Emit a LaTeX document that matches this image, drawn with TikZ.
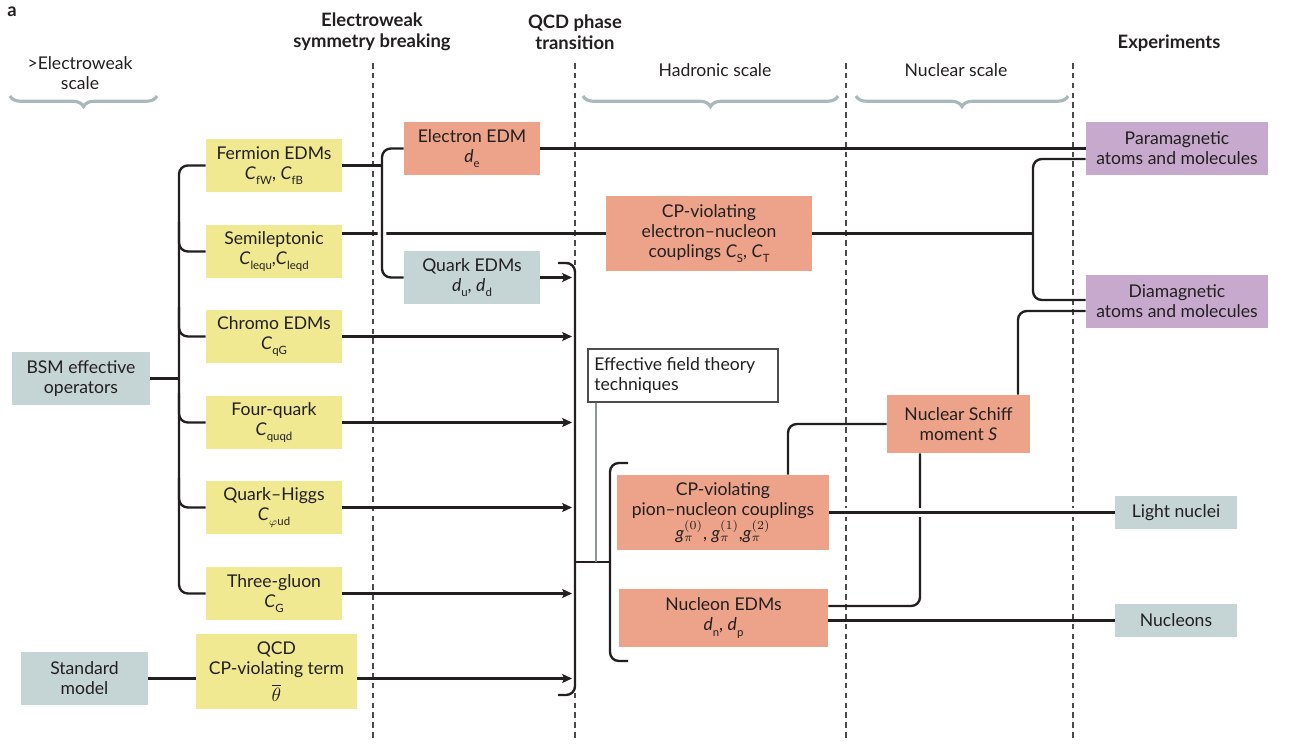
\documentclass[tikz,border=0pt]{standalone}
\usepackage{fontspec}
\setmainfont{Lato}
\usetikzlibrary{arrows.meta,decorations.pathreplacing}
\definecolor{txt}{HTML}{231F20}
\definecolor{yel}{HTML}{F0E991}
\definecolor{sal}{HTML}{EDA38A}
\definecolor{gbl}{HTML}{C5D4D5}
\definecolor{pur}{HTML}{C6A9CC}
\definecolor{brc}{HTML}{A9B8BB}
\definecolor{dsh}{HTML}{4A4A4A}
\definecolor{eftl}{HTML}{8A9597}
\newcommand\lsub[1]{\raisebox{-0.6ex}{\fontsize{6.5}{7}\selectfont #1}}
\begin{document}
\begin{tikzpicture}[x=0.02cm,y=-0.02cm,
  every node/.style={text=txt, font=\fontsize{10}{11.4}\selectfont},
  box/.style={inner sep=0pt, align=center, minimum width=#1},
  ybox/.style={box=2.72cm, fill=yel, minimum height=1.06cm},
  sbox/.style={fill=sal, inner sep=0pt, align=center},
  gbox/.style={fill=gbl, inner sep=0pt, align=center},
  pbox/.style={fill=pur, inner sep=0pt, align=center, minimum width=3.64cm, minimum height=1.06cm},
  hdr/.style={font=\fontsize{10.5}{12}\selectfont\bfseries, align=center},
  scl/.style={font=\fontsize{10}{11.5}\selectfont, align=center},
  conn/.style={draw=txt, line width=1.35pt, rounded corners=5pt},
  arr/.style={conn, -{Stealth[length=5.5pt,width=5pt,inset=1pt]}},
  halo/.style={preaction={draw=white, line width=5pt}},
  dline/.style={draw=dsh, line width=0.7pt, dash pattern=on 3.2pt off 2.4pt},
  brace/.style={draw=brc, line width=1.8pt, decorate, decoration={brace, mirror, amplitude=6pt}}
]
\useasboundingbox (0,0) rectangle (1296,746);

% header
\node[font=\fontsize{10.5}{12}\selectfont\bfseries] (lbl) at (12,12) {a};
\node[scl] (hew) at (80,73) {>Electroweak\\scale};
\node[hdr] (hewsb) at (372,32) {Electroweak\\symmetry breaking};
\node[hdr] (hqcd) at (575,32) {QCD phase\\transition};
\node[scl] (hhad) at (715,70) {Hadronic scale};
\node[scl] (hnuc) at (956,70) {Nuclear scale};
\node[hdr] (hexp) at (1169,43) {Experiments};
\draw[brace] (10,96) -- (157,96);
\draw[brace] (583,96) -- (838,96);
\draw[brace] (856,96) -- (1068,96);

% dashed separators
\draw[dline] (373,63) -- (373,740);
\draw[dline] (575,63) -- (575,740);
\draw[dline] (846,63) -- (846,740);
\draw[dline] (1073,63) -- (1073,740);

% boxes
\node[gbox, minimum width=2.76cm, minimum height=1.06cm] (bsm) at (81,378.5) {BSM effective\\operators};
\node[gbox, minimum width=2.54cm, minimum height=1.06cm] (sm) at (84.5,678.5) {Standard\\model};
\node[ybox] (fermion) at (274,165.5) {Fermion EDMs\\\textit{C}\lsub{fW}, \textit{C}\lsub{fB}};
\node[ybox] (semi) at (274,251.5) {Semileptonic\\\textit{C}\lsub{lequ},\textit{C}\lsub{leqd}};
\node[ybox] (chromo) at (274,336.5) {Chromo EDMs\\\textit{C}\lsub{qG}};
\node[ybox] (fourq) at (274,422.5) {Four-quark\\\textit{C}\lsub{quqd}};
\node[ybox] (qh) at (274,507.5) {Quark–Higgs\\\textit{C}\lsub{$\varphi$ud}};
\node[ybox] (tg) at (274,593.5) {Three-gluon\\\textit{C}\lsub{G}};
\node[box=3.22cm, fill=yel, minimum height=1.5cm] (qcdt) at (276.5,671.5) {QCD\\CP-violating term\\[3pt]{\fontsize{11}{12}\selectfont$\overline{\theta}$}};
\node[sbox, minimum width=2.72cm, minimum height=1.06cm] (electron) at (472,148.5) {Electron EDM\\\textit{d}\lsub{e}};
\node[gbox, minimum width=2.72cm, minimum height=1.06cm] (quark) at (472,277.5) {Quark EDMs\\\textit{d}\lsub{u}, \textit{d}\lsub{d}};
\node[sbox, minimum width=4.12cm, minimum height=1.5cm] (en) at (709,233.5) {CP-violating\\electron–nucleon\\couplings \textit{C}\lsub{S}, \textit{C}\lsub{T}};
\node[pbox] (para) at (1177,148.5) {Paramagnetic\\atoms and molecules};
\node[pbox] (dia) at (1177,301.5) {Diamagnetic\\atoms and molecules};
\node[draw=txt!80, line width=0.6pt, fill=white, inner sep=0pt, align=left, minimum width=3.8cm, minimum height=1.06cm] (eft) at (683,375.5) {Effective field theory\\techniques\phantom{ field theory}};
\node[sbox, minimum width=4.24cm, minimum height=1.5cm] (pion) at (723,512.5) {CP-violating\\pion–nucleon couplings\\\textit{g}${}_{\pi}^{(0)}$, \textit{g}${}_{\pi}^{(1)}$,\textit{g}${}_{\pi}^{(2)}$};
\node[sbox, minimum width=4.18cm, minimum height=1.16cm] (nedm) at (723.5,618) {Nucleon EDMs\\\textit{d}\lsub{n}, \textit{d}\lsub{p}};
\node[sbox, minimum width=2.86cm, minimum height=1.16cm] (schiff) at (958.5,424) {Nuclear Schiff\\moment \textit{S}};
\node[gbox, minimum width=2.44cm, minimum height=0.66cm] (light) at (1176,512.5) {Light nuclei};
\node[gbox, minimum width=2.44cm, minimum height=0.66cm] (nucleons) at (1176,620.5) {Nucleons};

% coordinates for free ends
\coordinate (bus) at (179,378.5);
\coordinate (bt) at (558,263);
\coordinate (bb) at (558,695);
\coordinate (ct) at (628,463);
\coordinate (cb) at (628,661);
\coordinate (jn) at (575,562);

% BSM tree
\draw[conn] (bsm.east) -- (bus);
\draw[conn] (fermion.west) -| (bus) |- (tg.west);
\draw[conn] (179,222) |- (semi.west);
\draw[conn] (179,307) |- (chromo.west);
\draw[conn] (179,393) |- (fourq.west);
\draw[conn] (179,478) |- (qh.west);

% semileptonic to electron-nucleon to atoms
\draw[conn] (semi.east |- en.west) -- (en.west);
\draw[conn, halo] (electron.west) -| (382,210) |- (quark.west);
\draw[conn] (fermion.east) -- (fermion.east -| 382,0);
\draw[conn] (electron.east) -- (para.west);
\draw[conn] (en.east) -- (en.east -| 1033,0);
\draw[conn] (para.west |- 0,159) -| (1033,230) |- (dia.west |- 0,300);

% arrows to QCD bracket
\draw[arr] (quark.east) -- (quark.east -| 572,0);
\draw[arr] (chromo.east) -- (chromo.east -| 572,0);
\draw[arr] (fourq.east) -- (fourq.east -| 572,0);
\draw[arr] (qh.east) -- (qh.east -| 572,0);
\draw[arr] (tg.east) -- (tg.east -| 572,0);
\draw[conn] (sm.east) -- (sm.east -| qcdt.west);
\draw[arr] (qcdt.east |- sm.east) -- (sm.east -| 572,0);
\draw[conn] (bt) -| (575,480) |- (bb);
\draw[conn] (jn) -- (jn -| 610,0);
\draw[conn] (ct) -| (610,560) |- (cb);
\draw[draw=eftl, line width=0.8pt] (eft.south -| 596,0) -- (jn -| 596,0);

% hadronic / nuclear
\draw[conn] (pion.north -| 788,0) |- (schiff.west);
\draw[conn] (nedm.east |- 0,606) -| (schiff.south -| 920,0);
\draw[conn, halo] (pion.east) -- (light.west);
\draw[conn] (nedm.east |- nucleons.west) -- (nucleons.west);
\draw[conn] (schiff.north -| 1018,0) |- (dia.west |- 0,311);
\end{tikzpicture}
\end{document}
